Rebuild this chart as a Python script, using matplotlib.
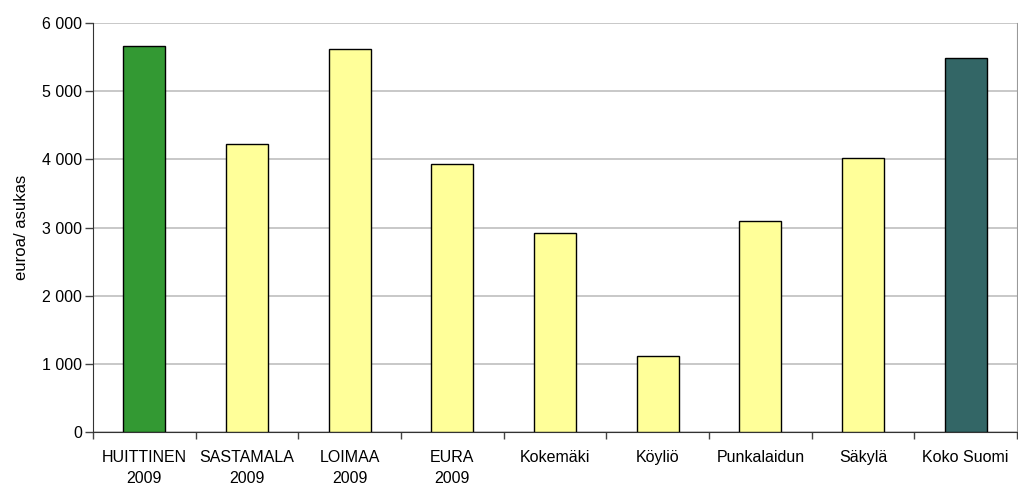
import numpy as np
import matplotlib.pyplot as plt

categories = ["HUITTINEN\n2009", "SASTAMALA\n2009", "LOIMAA\n2009", "EURA\n2009",
              "Kokemäki", "Köyliö", "Punkalaidun", "Säkylä", "Koko Suomi"]
values = [5660, 4220, 5620, 3930, 2920, 1120, 3100, 4020, 5490]
colors = ["#339933", "#FFFF99", "#FFFF99", "#FFFF99", "#FFFF99",
          "#FFFF99", "#FFFF99", "#FFFF99", "#336666"]

plt.rcParams['font.family'] = ['Liberation Sans', 'DejaVu Sans']

fig = plt.figure(figsize=(10.18, 4.84), dpi=100)
ax = fig.add_axes([93 / 1018, 1 - 432.3 / 484, 924 / 1018, 409.3 / 484])

x = np.arange(len(categories))
ax.bar(x, values, width=0.41, color=colors, edgecolor="black", linewidth=1.0, zorder=3)

ax.set_xlim(-0.5, len(categories) - 0.5)
ax.set_ylim(0, 6000)
yt = np.arange(0, 6001, 1000)
ax.set_yticks(yt)
ax.set_yticklabels([f"{v:,}".replace(",", " ") for v in yt], fontsize=11.5)
ax.yaxis.grid(True, color="#bfbfbf", linewidth=1.2, zorder=0)

# category labels centred, ticks on boundaries
ax.set_xticks(x)
ax.set_xticklabels(categories, fontsize=11.5, linespacing=1.5)
ax.tick_params(axis="x", length=0, pad=13)
ax.set_xticks(np.arange(-0.5, len(categories)), minor=True)
ax.tick_params(axis="x", which="minor", length=5, width=1, color="#444444")
ax.tick_params(axis="y", length=6, width=1, color="#444444", pad=2)

ax.set_ylabel("euroa/ asukas", fontsize=12, labelpad=9)

ax.spines["top"].set_visible(False)
ax.spines["right"].set_color("#999999")
ax.spines["left"].set_color("#333333")
ax.spines["bottom"].set_color("#333333")

fig.savefig("out.png", dpi=100)
